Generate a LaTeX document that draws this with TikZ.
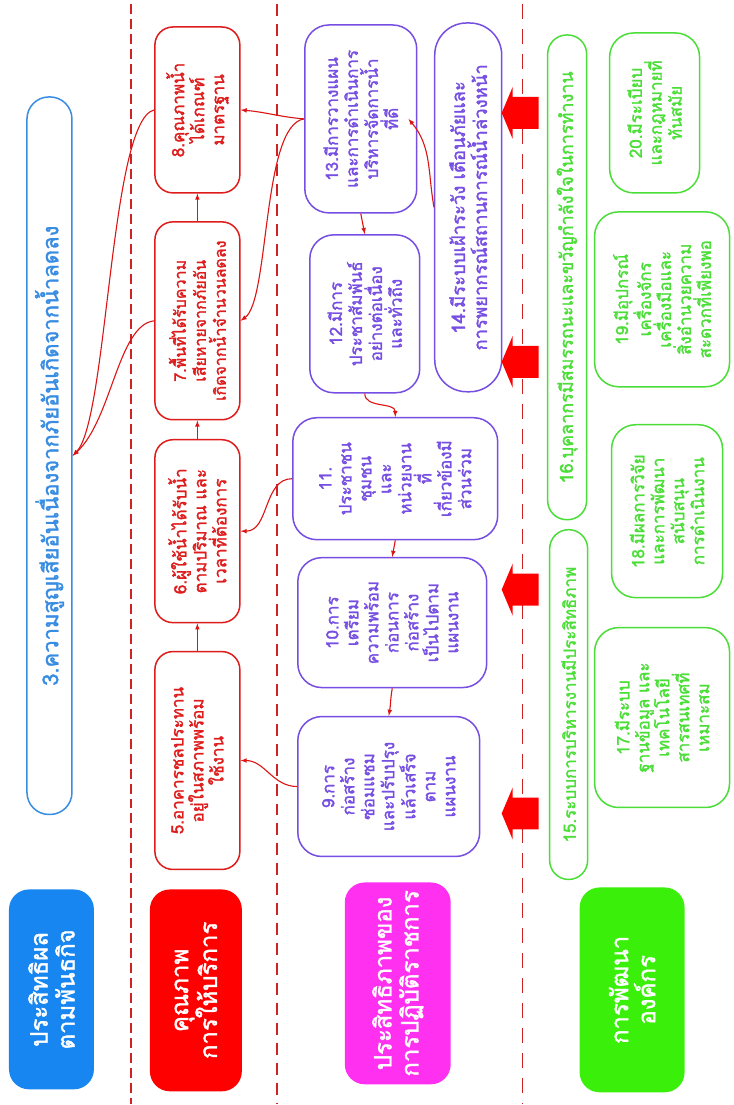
\documentclass[tikz,border=0pt]{standalone}
\usepackage{fontspec}
\newfontfamily\thaifont[Script=Thai, AutoFakeBold=1.6]{Loma}
\usetikzlibrary{arrows}

\definecolor{hdrblue}{RGB}{24,134,240}
\definecolor{hdrred}{RGB}{255,0,0}
\definecolor{hdrmag}{RGB}{255,48,240}
\definecolor{hdrgreen}{RGB}{58,240,10}
\definecolor{bluebox}{RGB}{56,140,226}
\definecolor{redbox}{RGB}{222,28,28}
\definecolor{purplebox}{RGB}{118,78,226}
\definecolor{greenbox}{RGB}{76,222,56}
\definecolor{linkred}{RGB}{220,20,20}
\definecolor{sepred}{RGB}{205,35,35}

\tikzset{
  x=1pt, y=1pt,
  hdr/.style={rotate=90, rounded corners=20pt, text=white, align=center,
    font=\thaifont\bfseries\fontsize{24}{27}\selectfont},
  goal/.style={draw, rotate=90, rounded corners=18pt, align=center,
    line width=1.5pt, inner sep=2pt,
    font=\thaifont\bfseries\fontsize{17}{20}\selectfont},
  rgoal/.style={goal, draw=redbox, text=redbox},
  pgoal/.style={goal, draw=purplebox, text=purplebox, rounded corners=24pt},
  ggoal/.style={goal, draw=greenbox, text=greenbox, rounded corners=24pt},
  link/.style={->, >=latex, draw=linkred, line width=1.1pt},
  sep/.style={draw=sepred, line width=1.4pt}
}

\begin{document}
\begin{tikzpicture}
% frame
\path[fill=white] (0,0) rectangle (734,-1105);

% separators
\draw[sep, dash pattern=on 10pt off 5pt] (131,-4) -- (131,-1105);
\draw[sep, dash pattern=on 12pt off 8pt] (277,-4) -- (277,-1105);
\draw[sep, dash pattern=on 15pt off 10pt] (523,-4) -- (523,-1105);

% headers
\node[hdr, fill=hdrblue, minimum width=200pt, minimum height=85pt] (hdrA) at (51.5,-990) {ประสิทธิผล\\ตามพันธกิจ};
\node[hdr, fill=hdrred, minimum width=202pt, minimum height=92pt] (hdrB) at (196,-991) {คุณภาพ\\การให้บริการ};
\node[hdr, fill=hdrmag, minimum width=202pt, minimum height=106pt] (hdrC) at (398,-984) {ประสิทธิภาพของ\\การปฏิบัติราชการ};
\node[hdr, fill=hdrgreen, minimum width=205pt, minimum height=105pt] (hdrD) at (632.5,-990.5) {การพัฒนา\\องค์กร};

% effectiveness
\node[goal, draw=bluebox, text=bluebox, rounded corners=22pt, minimum width=718pt, minimum height=45pt,
  font=\thaifont\bfseries\fontsize{22}{24}\selectfont] (b3) at (49.5,-456) {3.ความสูญเสียอันเนื่องจากภัยอันเกิดจากน้ำลดลง};

% quality
\node[rgoal, minimum width=166pt, minimum height=85pt] (b8) at (197.5,-110) {8.คุณภาพน้ำ\\ได้เกณฑ์\\มาตรฐาน};
\node[rgoal, minimum width=198pt, minimum height=85pt,
  font=\thaifont\bfseries\fontsize{16}{20}\selectfont] (b7) at (197.5,-321) {7.พื้นที่ได้รับความ\\เสียหายจากภัยอัน\\เกิดจากน้ำจำนวนลดลง};
\node[rgoal, minimum width=183pt, minimum height=85pt] (b6) at (197.5,-531.5) {6.ผู้ใช้น้ำได้รับน้ำ\\ตามปริมาณ และ\\เวลาที่ต้องการ};
\node[rgoal, minimum width=218pt, minimum height=85pt] (b5) at (197.5,-761) {5.อาคารชลประทาน\\อยู่ในสภาพพร้อม\\ใช้งาน};

% efficiency
\node[pgoal, minimum width=188pt, minimum height=112pt] (b13) at (361,-119) {13.มีการวางแผน\\และการดำเนินการ\\บริหารจัดการน้ำ\\ที่ดี};
\node[pgoal, minimum width=158pt, minimum height=110pt] (b12) at (365,-314) {12.มีการ\\ประชาสัมพันธ์\\อย่างต่อเนื่อง\\และทั่วถึง};
\node[pgoal, rounded corners=32pt, minimum width=369pt, minimum height=67pt,
  font=\thaifont\bfseries\fontsize{18.5}{22}\selectfont] (b14) at (468.5,-207.5) {14.มีระบบเฝ้าระวัง เตือนภัยและ\\การพยากรณ์สถานการณ์น้ำล่วงหน้า};
\node[pgoal, minimum width=122pt, minimum height=205pt] (b11) at (395.5,-479) {11.\\ประชาชน\\ชุมชน\\และ\\หน่วยงาน\\ที่\\เกี่ยวข้องมี\\ส่วนร่วม};
\node[pgoal, minimum width=130pt, minimum height=189pt] (b10) at (392.5,-623) {10.การ\\เตรียม\\ความพร้อม\\ก่อนการ\\ก่อสร้าง\\เป็นไปตาม\\แผนงาน};
\node[pgoal, minimum width=140pt, minimum height=182pt] (b9) at (389,-787) {9.การ\\ก่อสร้าง\\ซ่อมแซม\\และปรับปรุง\\แล้วเสร็จ\\ตาม\\แผนงาน};

% development
\node[ggoal, rounded corners=19pt, minimum width=485pt, minimum height=39pt,
  font=\thaifont\bfseries\fontsize{18}{20}\selectfont] (b16) at (567.5,-277.5) {16.บุคลากรมีสมรรถนะและขวัญกำลังใจในการทำงาน};
\node[ggoal, rounded corners=19pt, minimum width=350pt, minimum height=38pt] (b15) at (569,-705) {15.ระบบการบริหารงานมีประสิทธิภาพ};
\node[ggoal, minimum width=160pt, minimum height=90pt] (b20) at (655,-113) {20.มีระเบียบ\\และกฎหมายที่\\ทันสมัย};
\node[ggoal, minimum width=175pt, minimum height=135pt] (b19) at (662.5,-299.5) {19.มีอุปกรณ์\\เครื่องจักร\\เครื่องมือและ\\สิ่งอำนวยความ\\สะดวกที่เพียงพอ};
\node[ggoal, minimum width=173pt, minimum height=111pt] (b18) at (667.5,-511.5) {18.มีผลการวิจัย\\และการพัฒนา\\สนับสนุน\\การดำเนินงาน};
\node[ggoal, minimum width=180pt, minimum height=135pt] (b17) at (662.5,-718) {17.มีระบบ\\ฐานข้อมูล และ\\เทคโนโลยี\\สารสนเทศที่\\เหมาะสม};

% support arrows
\foreach \yy in {113,362,590,814}
  \fill[hdrred] (502,-\yy) -- (513,{26-\yy}) -- (513,{16-\yy}) -- (539,{16-\yy})
    -- (539,{-16-\yy}) -- (513,{-16-\yy}) -- (513,{-26-\yy}) -- cycle;

% links
\draw[link] (b13.west) -- (b12.east);
\draw[link] (b12.west) to[out=-90,in=90] (b11.east);
\draw[link] (b14.north) to[out=100,in=-50] ([xshift=-9pt]b13.south);
\draw[link] (b11.west) -- (b10.east);
\draw[link] (b10.west) to[out=-100,in=80] (b9.east);

\draw[link] (b13.north) to[out=175,in=-5] (b8.south);
\draw[link] (b13.north) .. controls (262,-125) and (270,-300) .. (b7.south);
\draw[link] (b11.north) to[out=180,in=0] (b6.south);
\draw[link] (b9.north) to[out=180,in=0] (b5.south);

\draw[link] (b5.east) -- (b6.west);
\draw[link] (b6.east) -- (b7.west);
\draw[link] (b7.east) -- (b8.west);

\draw[link] (b8.north) .. controls (110,-120) and (108,-420) .. (b3.south);
\draw[link] (b7.north) .. controls (118,-325) and (112,-420) .. (b3.south);
\end{tikzpicture}
\end{document}
